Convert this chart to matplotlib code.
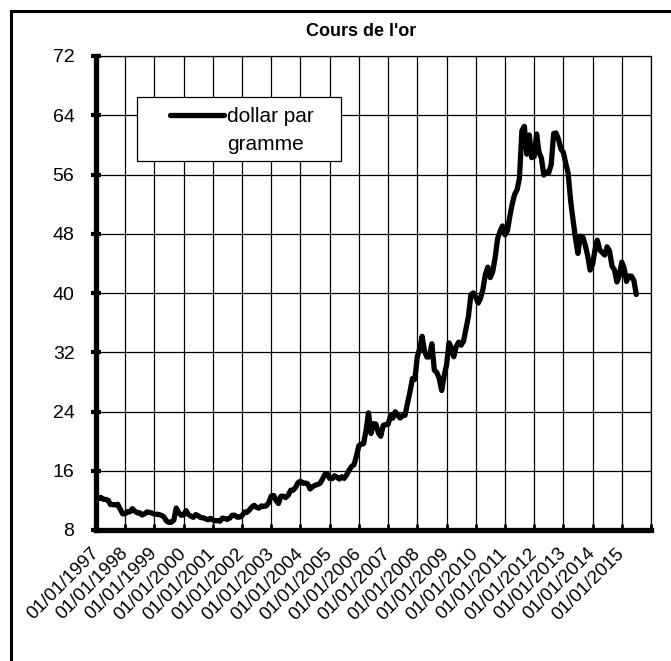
import numpy as np
import pandas as pd
import matplotlib
matplotlib.use("Agg")
import matplotlib.pyplot as plt
import matplotlib.patches as patches
from matplotlib.lines import Line2D

plt.rcParams['font.family'] = ['Liberation Sans', 'DejaVu Sans']

# monthly gold price, dollar per gram, Jan 1997 -> Jul 2015
prix = [
    12.49, 12.23, 12.41, 12.15, 12.13, 12.02, 11.43, 11.43, 11.39, 11.46, 10.79, 10.18,  # 1997
    10.20, 10.49, 10.44, 10.88, 10.55, 10.31, 10.33, 10.02, 10.19, 10.44, 10.37, 10.29,  # 1998
    10.13, 10.13, 10.08, 9.97, 9.75, 9.22, 9.03, 9.05, 9.34, 10.96, 10.34, 9.99,  # 1999
    10.04, 10.61, 10.10, 9.87, 9.71, 10.08, 9.93, 9.68, 9.65, 9.52, 9.38, 9.58,  # 2000
    9.37, 9.24, 9.28, 9.19, 9.61, 9.53, 9.44, 9.61, 10.00, 9.99, 9.74, 9.73,  # 2001
    9.94, 10.42, 10.37, 10.68, 11.09, 11.33, 11.05, 10.95, 11.26, 11.17, 11.26, 11.72,  # 2002
    12.59, 12.66, 12.01, 11.58, 12.55, 12.57, 12.38, 12.69, 13.37, 13.37, 13.75, 14.38,  # 2003
    14.60, 14.30, 14.35, 14.23, 13.54, 13.84, 14.04, 14.13, 14.30, 14.83, 15.50, 15.59,  # 2004
    14.96, 14.93, 15.32, 15.13, 14.88, 15.19, 14.97, 15.45, 16.09, 16.57, 16.81, 17.99,  # 2005
    19.40, 19.58, 19.65, 21.54, 23.82, 21.03, 22.35, 22.31, 21.10, 20.66, 22.14, 22.22,  # 2006
    22.26, 23.45, 23.10, 23.96, 23.52, 23.12, 23.47, 23.47, 25.14, 26.62, 28.44, 28.33,  # 2007
    31.38, 32.53, 34.16, 32.09, 31.35, 31.38, 33.15, 29.59, 29.27, 28.45, 26.84, 28.79,  # 2008
    30.29, 33.27, 32.60, 31.40, 32.75, 33.36, 32.95, 33.49, 35.15, 36.80, 39.75, 40.02,  # 2009
    39.43, 38.64, 39.27, 40.52, 42.52, 43.49, 42.08, 42.89, 44.83, 47.34, 48.32, 49.05,  # 2010
    47.85, 48.42, 50.23, 51.99, 53.28, 53.92, 55.48, 61.93, 62.50, 58.74, 61.34, 58.28,  # 2011
    58.42, 61.47, 59.04, 58.20, 55.93, 56.32, 56.22, 57.35, 61.53, 61.61, 60.73, 59.43,  # 2012
    58.97, 57.41, 56.19, 52.48, 49.88, 47.39, 45.34, 47.68, 47.57, 46.44, 45.00, 43.09,  # 2013
    43.89, 45.89, 47.13, 45.80, 45.46, 45.12, 46.23, 45.68, 43.62, 43.12, 41.49, 42.35,  # 2014
    44.16, 43.28, 41.57, 42.29, 42.28, 41.68, 39.80,  # 2015
]
dates = pd.date_range('1997-01-01', periods=len(prix), freq='MS')

annees = list(range(1997, 2017))
tick_dates = [pd.Timestamp(f'{a}-01-01') for a in annees]
tick_labels = [f'01/01/{a}' for a in annees[:-1]] + ['']
y_ticks = [8, 16, 24, 32, 40, 48, 56, 64, 72]

W, H = 671, 661
fig = plt.figure(figsize=(W / 100, H / 100), dpi=100)
ax = fig.add_axes([96 / W, 1 - 530 / H, 555 / W, 474 / H])

ax.plot(dates, prix, color='black', lw=3.8, solid_joinstyle='round',
        solid_capstyle='round', zorder=3)

ax.set_xlim(tick_dates[0], tick_dates[-1])
ax.set_ylim(8, 72)
ax.set_xticks(tick_dates)
ax.set_xticklabels(tick_labels, rotation=45, ha='right', va='center',
                   rotation_mode='anchor', fontsize=13.5)
ax.set_yticks(y_ticks)
ax.set_yticklabels([str(v) for v in y_ticks], fontsize=14)

ax.grid(True, color='black', lw=0.9, zorder=0)
ax.set_axisbelow(True)
ax.tick_params(axis='y', direction='inout', length=7, width=3, pad=12)
ax.tick_params(axis='x', direction='in', length=4, width=2, pad=15)

for s in ['left', 'bottom']:
    ax.spines[s].set_linewidth(3.8)
    ax.spines[s].set_capstyle('projecting')
for s in ['top', 'right']:
    ax.spines[s].set_linewidth(0.9)

# legend box, then legend entries inside it
fig.add_artist(patches.Rectangle((137 / W, 1 - 161 / H), 204 / W, 64 / H,
                                 transform=fig.transFigure, facecolor='white',
                                 edgecolor='black', lw=0.9, zorder=4))
handles = [Line2D([], [], color='black', lw=3.8, solid_capstyle='round'),
           Line2D([], [], color='none')]
leg = fig.legend(handles, ['dollar par', 'gramme'], loc='upper left',
                 bbox_to_anchor=(170 / W, 1 - 107 / H), frameon=False,
                 fontsize=15, handlelength=2.6, handletextpad=0.15,
                 borderpad=0, borderaxespad=0, labelspacing=0.45)
leg.set_zorder(5)

fig.text(361 / W, 1 - 31 / H, "Cours de l'or", ha='center', va='center',
         fontsize=13, fontweight='bold')

# outer frame (only top and left edges fall inside the picture)
fig.add_artist(patches.Rectangle((11 / W, -0.1), 2.0, 1.1 - 11 / H,
                                 transform=fig.transFigure, fill=False,
                                 edgecolor='black', lw=2.2))

fig.savefig('out.png', dpi=100)
